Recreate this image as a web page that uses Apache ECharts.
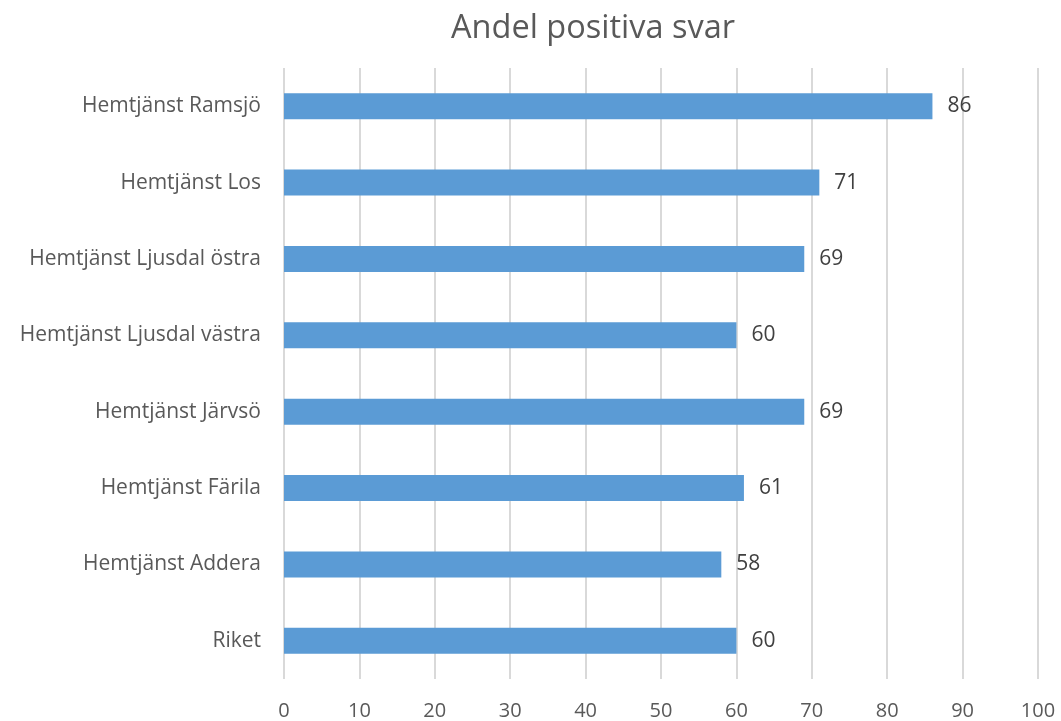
<!DOCTYPE html>
<html><head><meta charset="utf-8">
<script src="https://cdn.jsdelivr.net/npm/echarts@6/dist/echarts.min.js"></script>
<style>html,body{margin:0;padding:0;background:#fff}#c{width:1061px;height:721px}</style>
</head><body><div id="c"></div>
<script>
const categories = ["Hemtjänst Ramsjö","Hemtjänst Los","Hemtjänst Ljusdal östra","Hemtjänst Ljusdal västra","Hemtjänst Järvsö","Hemtjänst Färila","Hemtjänst Addera","Riket"];
const values = [86,71,69,60,69,61,58,60];
const titleText = "Andel positiva svar";
const font = "Open Sans";
const chart = echarts.init(document.getElementById('c'));
chart.setOption({
  animation:false,
  title:{text:titleText,left:588,top:7,textAlign:'center',textStyle:{fontFamily:font,fontSize:32.5,fontWeight:'normal',color:'#595959'}},
  grid:{left:284,right:23,top:68,bottom:41,containLabel:false},
  xAxis:{type:'value',min:0,max:100,interval:10,
    axisLine:{show:false},axisTick:{show:false},
    splitLine:{show:true,lineStyle:{color:'#d9d9d9',width:2}},
    axisLabel:{fontFamily:font,fontSize:20,color:'#595959',margin:22}},
  yAxis:{type:'category',data:categories,inverse:true,
    axisLine:{show:false},axisTick:{show:false},
    axisLabel:{fontFamily:font,fontSize:21,color:'#595959',margin:23}},
  series:[{type:'bar',data:values,barWidth:26,itemStyle:{color:'#5b9bd5'},
    label:{show:true,position:'right',distance:15,fontFamily:font,fontSize:21,color:'#404040'}}]
});
</script></body></html>
